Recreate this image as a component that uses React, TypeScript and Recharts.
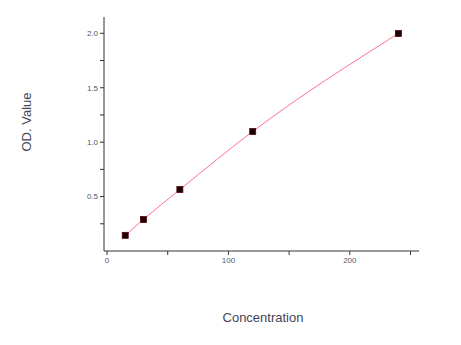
import { ComposedChart, Line, Scatter, XAxis, YAxis, Label } from 'recharts';

const concentration = [15, 30, 60, 120, 240];
const odValue = [0.144, 0.29, 0.565, 1.098, 1.998];
const xTicks = [0, 50, 100, 150, 200, 250];
const yTicks = [0.25, 0.5, 0.75, 1.0, 1.25, 1.5, 1.75, 2.0];
const xLabelled = [0, 100, 200];
const yLabelled = [0.5, 1.0, 1.5, 2.0];

const data = concentration.map((c, i) => ({ x: c, y: odValue[i] }));

const SquareDot = (props: any) => {
  const { cx, cy } = props;
  if (cx == null || cy == null) return null;
  return <rect x={cx - 3} y={cy - 3} width={6} height={6} fill="#1a0000" stroke="#5a0010" strokeWidth={0.8} />;
};

const App = () => {
  return (
    <div style={{ position: 'absolute', left: 0, top: 0, background: '#fff' }}>
      <ComposedChart
        width={461}
        height={345}
        data={data}
        margin={{ top: 17, right: 42, bottom: 0, left: 0 }}
      >
        <XAxis
          type="number"
          dataKey="x"
          domain={[-2.5, 257]}
          ticks={xTicks}
          tickFormatter={(v: number) => (xLabelled.includes(v) ? String(v) : '')}
          stroke="#333"
          tickSize={4}
          tick={{ fill: '#556', fontSize: 8, fontFamily: 'Liberation Sans, Arial' }}
          height={94}
          allowDataOverflow
        >
          <Label
            content={() => (
              <text x={263} y={322} textAnchor="middle" fontSize={13} fill="#445" fontFamily="Liberation Sans, Arial">
                Concentration
              </text>
            )}
          />
        </XAxis>
        <YAxis
          type="number"
          domain={[0, 2.15]}
          ticks={yTicks}
          tickFormatter={(v: number) => (yLabelled.includes(v) ? v.toFixed(1) : '')}
          stroke="#333"
          tickSize={4}
          tick={{ fill: '#556', fontSize: 8, fontFamily: 'Liberation Sans, Arial' }}
          width={104}
          allowDataOverflow
        >
          <Label
            content={() => (
              <text
                x={31}
                y={122}
                textAnchor="middle"
                fontSize={13}
                fill="#445"
                fontFamily="Liberation Sans, Arial"
                transform="rotate(-90 31 122)"
              >
                OD. Value
              </text>
            )}
          />
        </YAxis>
        <Line
          type="monotone"
          dataKey="y"
          stroke="#ff6f8f"
          strokeWidth={1}
          dot={false}
          activeDot={false}
          isAnimationActive={false}
        />
        <Scatter dataKey="y" shape={<SquareDot />} isAnimationActive={false} />
      </ComposedChart>
    </div>
  );
};

export default App;
